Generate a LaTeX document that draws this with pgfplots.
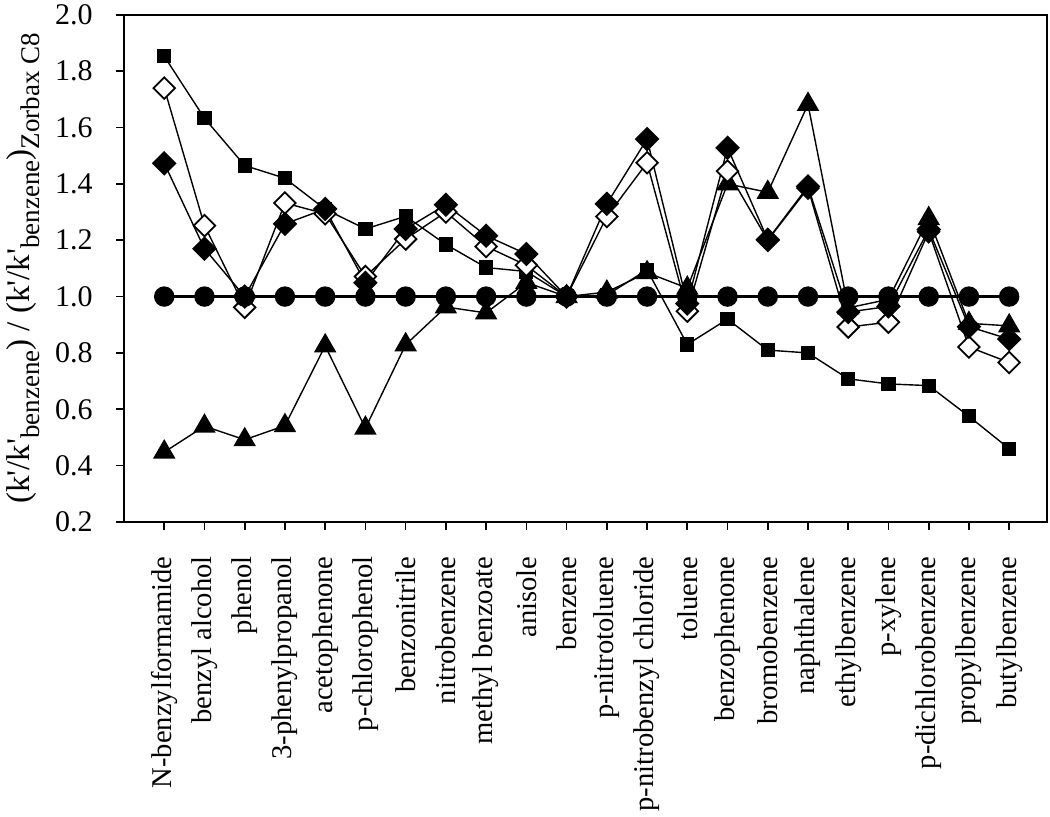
\documentclass[border=0pt]{standalone}
\usepackage{pgfplots}
\pgfplotsset{compat=1.18}
\usepackage{fontspec}
\setmainfont{Liberation Serif}
\newcommand{\sub}[1]{\raisebox{-0.3em}{\fontsize{13.5}{14}\selectfont #1}}
\begin{document}
\begin{tikzpicture}
\begin{axis}[
 scale only axis, width=461.5pt, height=253.6pt,
 xmin=-1, xmax=21.94, ymin=0.2, ymax=2.0,
 xtick={0,...,21},
 xticklabels={N-benzylformamide, benzyl alcohol, phenol, 3-phenylpropanol, acetophenone, p-chlorophenol, benzonitrile, nitrobenzene, methyl benzoate, anisole, benzene, p-nitrotoluene, p-nitrobenzyl chloride, toluene, benzophenone, bromobenzene, naphthalene, ethylbenzene, p-xylene, p-dichlorobenzene, propylbenzene, butylbenzene},
 ytick={0.2,0.4,0.6,0.8,1.0,1.2,1.4,1.6,1.8,2.0},
 yticklabel style={/pgf/number format/fixed, /pgf/number format/fixed zerofill, /pgf/number format/precision=1},
 /pgf/number format/assume math mode=true,
 tick align=outside, tick pos=left,
 major tick length=4pt,
 tick style={line width=0.8pt, black},
 axis line style={line width=0.9pt},
 x tick label style={rotate=90, anchor=east, font=\fontsize{14.3}{15}\selectfont, inner sep=1pt},
 xticklabel shift=12pt,
 y tick label style={font=\fontsize{15}{16}\selectfont, inner sep=0.5pt},
 yticklabel shift=11pt,
 ylabel={(k\textquotesingle/k\textquotesingle\sub{benzene}) / (k\textquotesingle/k\textquotesingle\sub{benzene})\sub{Zorbax C8}},
 ylabel style={font=\fontsize{16.5}{18}\selectfont, at={(axis description cs:-0.091,0.5)}, anchor=south, inner sep=0pt},
 clip=false,
]
% squares
\addplot[black, line width=0.7pt, mark=square*, mark size=3.2pt, mark options={solid}] coordinates {
(0,1.853) (1,1.633) (2,1.465) (3,1.42) (4,1.31) (5,1.24) (6,1.285) (7,1.185) (8,1.103) (9,1.089) (10,1.0)
(11,1.005) (12,1.095) (13,0.83) (14,0.92) (15,0.81) (16,0.80) (17,0.708) (18,0.69) (19,0.684) (20,0.575) (21,0.46)};
% triangles
\addplot[black, line width=0.7pt, mark=triangle*, mark size=5.8pt, mark options={solid}] coordinates {
(0,0.448) (1,0.54) (2,0.492) (3,0.542) (4,0.825) (5,0.533) (6,0.829) (7,0.963) (8,0.942) (9,1.05) (10,1.0)
(11,1.016) (12,1.085) (13,1.03) (14,1.40) (15,1.37) (16,1.682) (17,0.96) (18,0.99) (19,1.277) (20,0.905) (21,0.896)};
% open diamonds
\addplot[black, line width=0.7pt, mark=square*, mark size=3.8pt, mark options={solid, rotate=45, fill=white, line width=0.9pt}] coordinates {
(0,1.74) (1,1.252) (2,0.962) (3,1.332) (4,1.294) (5,1.071) (6,1.204) (7,1.30) (8,1.178) (9,1.111) (10,1.0)
(11,1.284) (12,1.475) (13,0.948) (14,1.445) (15,1.20) (16,1.385) (17,0.892) (18,0.909) (19,1.23) (20,0.821) (21,0.766)};
% filled diamonds
\addplot[black, line width=0.7pt, mark=square*, mark size=4pt, mark options={solid, rotate=45}] coordinates {
(0,1.473) (1,1.17) (2,1.0) (3,1.258) (4,1.311) (5,1.049) (6,1.24) (7,1.326) (8,1.216) (9,1.151) (10,1.0)
(11,1.329) (12,1.559) (13,0.975) (14,1.528) (15,1.202) (16,1.391) (17,0.945) (18,0.965) (19,1.238) (20,0.893) (21,0.849)};
% circles
\addplot[black, line width=1.2pt, mark=*, mark size=4.5pt, mark options={solid}] coordinates {
(0,1) (1,1) (2,1) (3,1) (4,1) (5,1) (6,1) (7,1) (8,1) (9,1) (10,1)
(11,1) (12,1) (13,1) (14,1) (15,1) (16,1) (17,1) (18,1) (19,1) (20,1) (21,1)};
\end{axis}
\pgfresetboundingbox
\path ([xshift=-62pt, yshift=-147.5pt]current axis.south west) rectangle ([xshift=1.5pt, yshift=7.4pt]current axis.north east);
\end{tikzpicture}
\end{document}
